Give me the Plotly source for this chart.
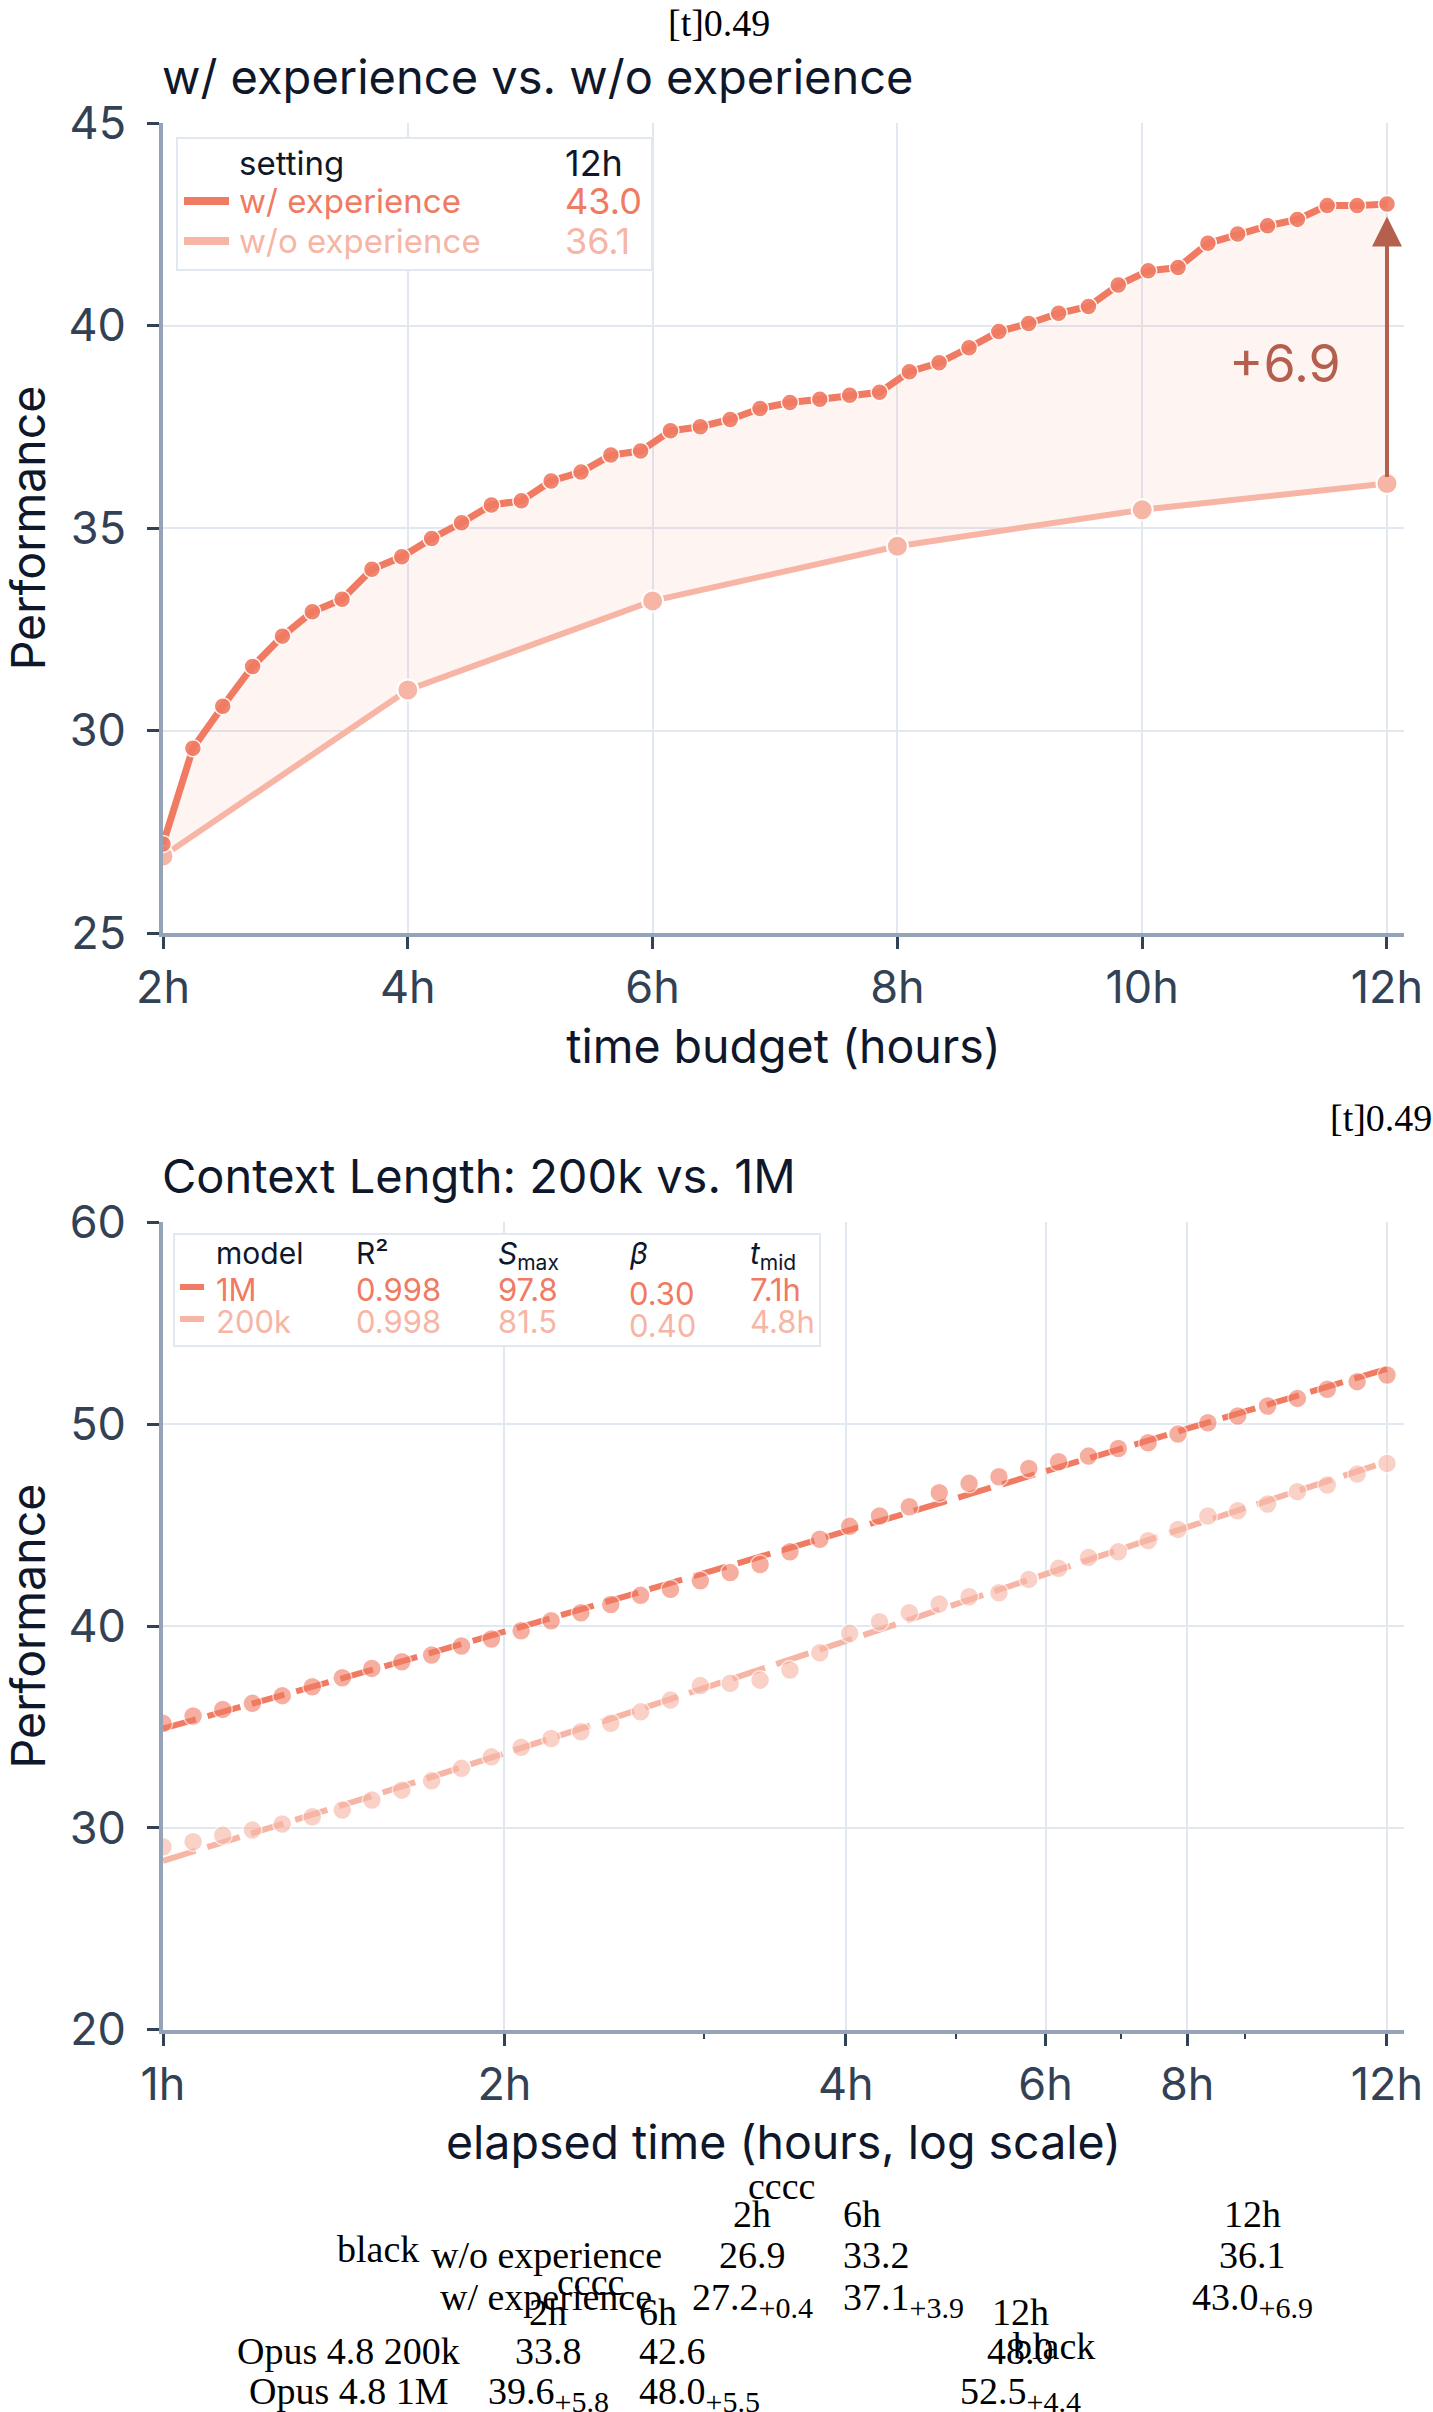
import plotly.graph_objects as go

# ---------------- data ----------------
# top chart: w/ experience vs. w/o experience
top_hours = [2.000, 2.244, 2.488, 2.732, 2.976, 3.220, 3.463, 3.707, 3.951, 4.195,
             4.439, 4.683, 4.927, 5.171, 5.415, 5.659, 5.902, 6.146, 6.390, 6.634,
             6.878, 7.122, 7.366, 7.610, 7.854, 8.098, 8.341, 8.585, 8.829, 9.073,
             9.317, 9.561, 9.805, 10.049, 10.293, 10.537, 10.780, 11.024, 11.268,
             11.512, 11.756, 12.000]
w_exp = [27.2, 29.56, 30.60, 31.58, 32.33, 32.93, 33.24, 33.98, 34.29, 34.74,
         35.13, 35.57, 35.67, 36.16, 36.38, 36.80, 36.90, 37.40, 37.50, 37.68,
         37.95, 38.10, 38.18, 38.28, 38.35, 38.86, 39.08, 39.45, 39.85, 40.05,
         40.30, 40.47, 41.00, 41.35, 41.43, 42.03, 42.26, 42.46, 42.62,
         42.96, 42.96, 43.00]
wo_hours = [2, 4, 6, 8, 10, 12]
wo_exp = [26.9, 31.0, 33.2, 34.55, 35.45, 36.1]
top_xticks = [2, 4, 6, 8, 10, 12]
top_xlabels = ["2h", "4h", "6h", "8h", "10h", "12h"]
top_yticks = [25, 30, 35, 40, 45]

# bottom chart: context length 200k vs 1M
ctx_hours = [1.0, 1.063, 1.129, 1.199, 1.274, 1.354, 1.439, 1.528, 1.624, 1.725,
             1.833, 1.948, 2.069, 2.199, 2.336, 2.482, 2.637, 2.802, 2.977, 3.163,
             3.361, 3.571, 3.794, 4.031, 4.283, 4.550, 4.835, 5.137, 5.458, 5.799,
             6.161, 6.546, 6.955, 7.390, 7.851, 8.342, 8.863, 9.417, 10.005,
             10.630, 11.295, 12.0]
perf_1m = [35.18, 35.54, 35.87, 36.17, 36.55, 36.99, 37.44, 37.90, 38.23, 38.56,
           39.01, 39.36, 39.77, 40.26, 40.66, 41.07, 41.52, 41.82, 42.24, 42.65,
           43.05, 43.68, 44.30, 44.94, 45.45, 45.91, 46.61, 47.07, 47.40, 47.81,
           48.14, 48.42, 48.80, 49.08, 49.51, 50.07, 50.41, 50.90, 51.28, 51.73,
           52.11, 52.44]
perf_200k = [29.06, 29.31, 29.64, 29.89, 30.19, 30.55, 30.88, 31.38, 31.87, 32.33,
             32.95, 33.52, 33.99, 34.43, 34.76, 35.18, 35.75, 36.33, 37.05, 37.16,
             37.32, 37.82, 38.68, 39.64, 40.21, 40.66, 41.09, 41.45, 41.65, 42.31,
             42.86, 43.40, 43.68, 44.23, 44.79, 45.45, 45.71, 46.05, 46.66, 46.99,
             47.53, 48.06]
fit_hours = [1, 1.5, 2, 3, 4, 6, 8, 10, 12]
fit_1m = [34.92, 37.70, 39.72, 42.62, 44.70, 47.67, 49.78, 51.41, 52.74]
fit_200k = [28.37, 31.44, 33.69, 36.93, 39.26, 42.57, 44.90, 46.69, 48.14]
bot_xticks = [1, 2, 4, 6, 8, 12]
bot_xlabels = ["1h", "2h", "4h", "6h", "8h", "12h"]
bot_minor = [3, 5, 7, 9]
bot_yticks = [20, 30, 40, 50, 60]
fit_headers = ["model", "R²", "<i>S</i><sub>max</sub>", "<i>β</i>", "<i>t</i><sub>mid</sub>"]
fit_rows = [["1M", "0.998", "97.8", "0.30", "7.1h"],
            ["200k", "0.998", "81.5", "0.40", "4.8h"]]

# stray table text (serif)
exp_cols = ["2h", "6h", "12h"]
exp_wo_vals = ["26.9", "33.2", "36.1"]
exp_w_vals = ["27.2", "37.1", "43.0"]
exp_w_delta = ["+0.4", "+3.9", "+6.9"]
ctx_cols = ["2h", "6h", "12h"]
ctx_200k_vals = ["33.8", "42.6", "48.0"]
ctx_1m_vals = ["39.6", "48.0", "52.5"]
ctx_1m_delta = ["+5.8", "+5.5", "+4.4"]

# ---------------- style ----------------
W, H = 1433, 2412
C_W = "#F07A62"
C_WO = "#F7B5A5"
C_ARROW = "#B5604F"
INK = "#0F172A"
TICK = "#334155"
GRID = "#E2E8F0"
AXIS = "#94A3B8"
SANS = "Inter"
SERIF = "Liberation Serif"


def px(x):
    return x / W


def py(y):
    return 1 - y / H


X_DOM = [px(163), px(1404)]
TOP_Y = [py(933), py(123)]
BOT_Y = [py(2029.7), py(1222.4)]

fig = go.Figure()

# top chart
fig.add_trace(go.Scatter(
    x=wo_hours, y=wo_exp, mode="lines+markers", xaxis="x", yaxis="y",
    line=dict(color=C_WO, width=6),
    marker=dict(size=21, color=C_WO, line=dict(color="white", width=2)),
    showlegend=False))
fig.add_trace(go.Scatter(
    x=top_hours, y=w_exp, mode="lines+markers", xaxis="x", yaxis="y",
    line=dict(color=C_W, width=7),
    marker=dict(size=17, color=C_W, opacity=0.9, line=dict(color="white", width=1.5)),
    fill="tonexty", fillcolor="rgba(240,122,98,0.075)",
    showlegend=False))

# bottom chart
fig.add_trace(go.Scatter(
    x=fit_hours, y=fit_200k, mode="lines", xaxis="x2", yaxis="y2",
    line=dict(color=C_WO, width=6, dash="34px,12px", shape="spline"),
    showlegend=False))
fig.add_trace(go.Scatter(
    x=fit_hours, y=fit_1m, mode="lines", xaxis="x2", yaxis="y2",
    line=dict(color=C_W, width=6, dash="34px,12px", shape="spline"),
    showlegend=False))
fig.add_trace(go.Scatter(
    x=ctx_hours, y=perf_200k, mode="markers", xaxis="x2", yaxis="y2",
    marker=dict(size=19, color=C_WO, opacity=0.62, line=dict(color="white", width=1.5)),
    showlegend=False))
fig.add_trace(go.Scatter(
    x=ctx_hours, y=perf_1m, mode="markers", xaxis="x2", yaxis="y2",
    marker=dict(size=19, color=C_W, opacity=0.6, line=dict(color="white", width=1.5)),
    showlegend=False))

common = dict(
    showgrid=True, gridcolor=GRID, gridwidth=2,
    showline=True, linecolor=AXIS, linewidth=4,
    ticks="outside", ticklen=12, tickwidth=3, tickcolor=TICK,
    tickfont=dict(family=SANS, size=45, color=TICK),
    zeroline=False, automargin=False,
    title_font=dict(family=SANS, size=46.5, color=INK),
)

fig.update_layout(
    width=W, height=H,
    margin=dict(l=0, r=0, t=0, b=0),
    paper_bgcolor="white", plot_bgcolor="white",
    xaxis=dict(common, domain=X_DOM, range=[2, 12.139], anchor="y",
               tickmode="array", tickvals=top_xticks, ticktext=top_xlabels,
               title=dict(text="time budget (hours)", standoff=18)),
    yaxis=dict(common, domain=TOP_Y, range=[25, 45], anchor="x",
               tickmode="array", tickvals=top_yticks, ticklabelstandoff=12,
               title=dict(text="Performance", standoff=12)),
    xaxis2=dict(common, type="log", domain=X_DOM, range=[0, 1.0942], anchor="y2",
                tickmode="array", tickvals=bot_xticks, ticktext=bot_xlabels,
                minor=dict(tickmode="array", tickvals=bot_minor, ticks="outside",
                           ticklen=5, tickwidth=2, tickcolor=TICK, showgrid=False),
                title=dict(text="elapsed time (hours, log scale)", standoff=18)),
    yaxis2=dict(common, domain=BOT_Y, range=[20, 60], anchor="x2",
                tickmode="array", tickvals=bot_yticks, ticklabelstandoff=12,
                title=dict(text="Performance", standoff=12)),
)

ann = []


def txt(x, cy, s, size, color, family=SANS, xanchor="left", top=None):
    ytop = cy - 0.62 * size if top is None else top
    ann.append(dict(x=px(x), y=py(ytop), xref="paper", yref="paper",
                    text=s, showarrow=False, xanchor=xanchor, yanchor="top",
                    font=dict(family=family, size=size, color=color)))


# titles
txt(160, 75, "w/ experience vs. w/o experience", 47, INK)
txt(160, 1174, "Context Length: 200k vs. 1M", 47, INK)

# arrow and gap label
gap = w_exp[-1] - wo_exp[-1]
ann.append(dict(x=12, y=42.69, ax=12, ay=36.22, xref="x", yref="y", axref="x", ayref="y",
                text="", showarrow=True, arrowhead=2, arrowsize=1.5, arrowwidth=4,
                arrowcolor=C_ARROW, standoff=0, startstandoff=0))
ann.append(dict(x=11.17, y=39.07, xref="x", yref="y", text=f"+{gap:.1f}", showarrow=False,
                xanchor="center", yanchor="middle",
                font=dict(family=SANS, size=52, color=C_ARROW)))

shapes = []
# top legend box
shapes.append(dict(type="rect", xref="paper", yref="paper", x0=px(177), x1=px(652),
                   y0=py(270), y1=py(138), line=dict(color=GRID, width=2),
                   fillcolor="white", layer="above"))
shapes.append(dict(type="line", xref="paper", yref="paper", x0=px(184), x1=px(229),
                   y0=py(201), y1=py(201), line=dict(color=C_W, width=8), layer="above"))
shapes.append(dict(type="line", xref="paper", yref="paper", x0=px(184), x1=px(229),
                   y0=py(241), y1=py(241), line=dict(color=C_WO, width=8), layer="above"))
LS = 33
NS = 36
txt(237, 161, "setting", LS, INK)
txt(563, 161, "12h", NS, INK)
txt(237, 199, "w/ experience", LS, C_W)
txt(563, 199, f"{w_exp[-1]:.1f}", NS, C_W)
txt(237, 239, "w/o experience", LS, C_WO)
txt(563, 239, f"{wo_exp[-1]:.1f}", NS, C_WO)

# bottom legend (fit table)
shapes.append(dict(type="rect", xref="paper", yref="paper", x0=px(174), x1=px(820),
                   y0=py(1346), y1=py(1234), line=dict(color=GRID, width=2),
                   fillcolor="white", layer="above"))
shapes.append(dict(type="line", xref="paper", yref="paper", x0=px(180), x1=px(204),
                   y0=py(1287), y1=py(1287), line=dict(color=C_W, width=6), layer="above"))
shapes.append(dict(type="line", xref="paper", yref="paper", x0=px(180), x1=px(204),
                   y0=py(1319), y1=py(1319), line=dict(color=C_WO, width=6), layer="above"))
BS = 30
col_x = [214, 354, 496, 627, 748]
for cx, h in zip(col_x, fit_headers):
    txt(cx, 1252, h, BS, INK)
for row, cy, col in zip(fit_rows, [1288, 1320], [C_W, C_WO]):
    for j, (cx, v) in enumerate(zip(col_x, row)):
        txt(cx, cy + (4 if j == 3 else 0), v, 31, col)

# stray serif table text
SS = 38
SUB = "<sub><span style='font-size:30px'>{}</span></sub>"
txt(719, 18, "[t]0.49", SS, "black", SERIF, "center", top=0)
txt(1434, 1119, "[t]0.49", SS, "black", SERIF, "right")

t1_x = [(752, "center"), (841, "left"), (1252, "center")]
txt(781, 2187, "cccc", SS, "black", SERIF, "center")
for (cx, xa), s in zip(t1_x, exp_cols):
    txt(cx, 2215, s, SS, "black", SERIF, xa)
txt(378, 2250, "black", SS, "black", SERIF, "center")
txt(546, 2256, "w/o experience", SS, "black", SERIF, "center")
for (cx, xa), s in zip(t1_x, exp_wo_vals):
    txt(cx, 2256, s, SS, "black", SERIF, xa)
txt(590, 2283, "cccc", SS, "black", SERIF, "center")
txt(546, 2298, "w/ experience", SS, "black", SERIF, "center")
for (cx, xa), s, d in zip(t1_x, exp_w_vals, exp_w_delta):
    txt(cx, 2298, s + SUB.format(d), SS, "black", SERIF, xa)

t2_x = [(548, "center"), (637, "left"), (1020, "center")]
for (cx, xa), s in zip(t2_x, ctx_cols):
    txt(cx, 2313, s, SS, "black", SERIF, xa)
txt(1054, 2347, "black", SS, "black", SERIF, "center")
txt(348, 2352, "Opus 4.8 200k", SS, "black", SERIF, "center")
for (cx, xa), s in zip(t2_x, ctx_200k_vals):
    txt(cx, 2352, s, SS, "black", SERIF, xa)
txt(349, 2392, "Opus 4.8 1M", SS, "black", SERIF, "center")
for (cx, xa), s, d in zip(t2_x, ctx_1m_vals, ctx_1m_delta):
    txt(cx, 2392, s + SUB.format(d), SS, "black", SERIF, xa)

fig.update_layout(annotations=ann, shapes=shapes)
fig.write_html("out.html")
